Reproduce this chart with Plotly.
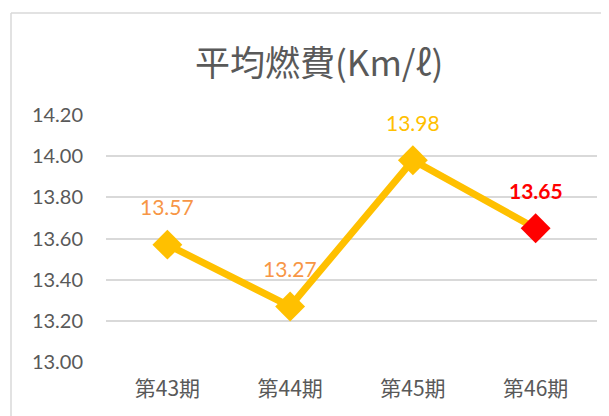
import plotly.graph_objects as go

categories = ["第43期", "第44期", "第45期", "第46期"]
values = [13.57, 13.27, 13.98, 13.65]
label_texts = ["13.57", "13.27", "13.98", "<b>13.65</b>"]
marker_colors = ["#FFC000", "#FFC000", "#FFC000", "#FF0000"]
label_colors = ["#F79646", "#F79646", "#FFC000", "#FF0000"]
y_ticks = [13.00, 13.20, 13.40, 13.60, 13.80, 14.00, 14.20]
title_text = "平均燃費(Km/ℓ)"

# page body adds an 8px offset; figure drawn 8px in from the window edge
OFF = 8
W, H = 609 - OFF, 416 - OFF
ML, MR, MT, MB = 106 - OFF, 12, 115 - OFF, 54
pw = W - ML - MR
ph = H - MT - MB

fig = go.Figure()
fig.add_trace(go.Scatter(
    x=categories, y=values, mode="lines+markers",
    line=dict(color="#FFC000", width=7),
    marker=dict(symbol="diamond", size=23, color=marker_colors,
                line=dict(width=0)),
    hoverinfo="skip", showlegend=False,
))

annotations = []
for c, v, t, col in zip(categories, values, label_texts, label_colors):
    annotations.append(dict(
        x=c, y=v, text=t, showarrow=False, yshift=38,
        font=dict(family="Lato, 'Open Sans', sans-serif", size=21, color=col),
    ))

def px_x(p):
    return (p - OFF - ML) / pw

def px_y(p):
    return (H - MB - (p - OFF)) / ph

annotations.append(dict(
    xref="paper", yref="paper", x=px_x(319), y=px_y(60),
    text=title_text, showarrow=False, xanchor="center", yanchor="middle",
    font=dict(family="'Noto Sans CJK JP', sans-serif", size=35, color="#595959"),
))

shapes = [
    dict(type="line", xref="paper", yref="paper",
         x0=px_x(11), x1=px_x(11), y0=px_y(430), y1=px_y(13),
         line=dict(color="#D9D9D9", width=1.5)),
    dict(type="line", xref="paper", yref="paper",
         x0=px_x(11), x1=px_x(620), y0=px_y(13), y1=px_y(13),
         line=dict(color="#D9D9D9", width=1.5)),
]

fig.update_layout(
    width=W, height=H,
    margin=dict(l=ML, r=MR, t=MT, b=MB),
    paper_bgcolor="white", plot_bgcolor="white",
    annotations=annotations, shapes=shapes,
    xaxis=dict(
        type="category", range=[-0.5, 3.5], showgrid=False, zeroline=False,
        showline=False, ticks="", ticklabelstandoff=12,
        tickfont=dict(family="'Noto Sans CJK JP', sans-serif", size=21, color="#595959"),
    ),
    yaxis=dict(
        range=[13.0, 14.2], tickvals=y_ticks, tickformat=".2f",
        showgrid=True, gridcolor="#D9D9D9", gridwidth=1.5,
        zeroline=False, showline=False, ticks="", ticklabelstandoff=22,
        tickfont=dict(family="Lato, 'Open Sans', sans-serif", size=20, color="#595959"),
    ),
)

fig.write_html("out.html")
